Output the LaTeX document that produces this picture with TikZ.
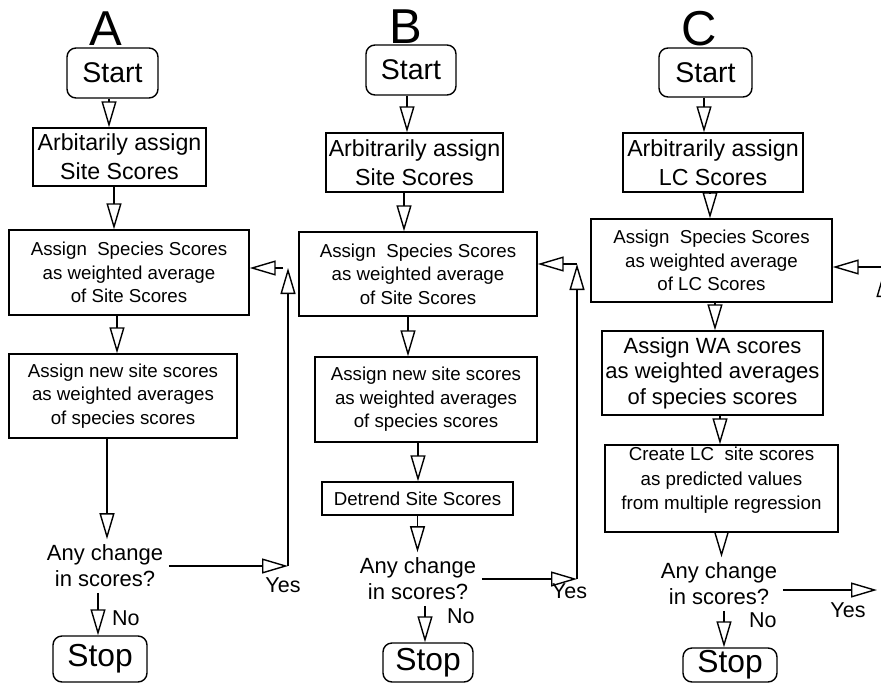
\documentclass[tikz,border=0pt]{standalone}
\usepackage{fontspec}
\setmainfont{Liberation Sans}
\usetikzlibrary{arrows.meta}

\begin{document}
\begin{tikzpicture}[x=1pt,y=-1pt,line width=1.4pt,
  flow/.style={-{Triangle[open,length=26pt,width=15pt]}},
  startbox/.style={draw,rounded corners=9pt,inner sep=0pt,font=\fontsize{28.5}{34}\selectfont},
  stopbox/.style={draw,rounded corners=9pt,inner sep=0pt,font=\fontsize{31.8}{38}\selectfont},
  procbox/.style={draw,inner sep=0pt,align=center},
  bigtext/.style={font=\fontsize{23.2}{29}\selectfont},
  smalltext/.style={font=\fontsize{18.7}{23.5}\selectfont},
  question/.style={align=center,inner sep=5pt,font=\fontsize{22}{26}\selectfont},
  answer/.style={font=\fontsize{21.5}{26}\selectfont},
  panel/.style={font=\fontsize{49}{56}\selectfont}]
\useasboundingbox (0,0) rectangle (881,683);
\clip (0,0) rectangle (881,683);

% Panel A
\node[panel,anchor=base] (labA) at (106,45) {A};
\node[startbox,minimum width=91pt,minimum height=50pt] (startA) at (112.5,73) {Start};
\node[procbox,bigtext,minimum width=173pt,minimum height=58pt] (arbA) at (119.5,157) {Arbitarily assign\\Site Scores};
\node[procbox,smalltext,minimum width=240pt,minimum height=85pt] (specA) at (129,272.5) {Assign~ Species Scores\\as weighted average\\of Site Scores};
\node[procbox,smalltext,minimum width=228pt,minimum height=84pt] (newA) at (123,396) {Assign new site scores\\as weighted averages\\of species scores};
\node[question] (qA) at (105,566) {Any change\\in scores?};
\node[stopbox,minimum width=94pt,minimum height=46pt] (stopA) at (100,659) {Stop};
\node[answer,anchor=base] (yesA) at (283,592) {Yes};
\node[answer,anchor=base west] (noA) at (108,625) {No};
\coordinate (cornA) at (288,564);
\coordinate (topA) at (288,268);

\draw[flow] ([xshift=-3.5pt]startA.south) -- ([xshift=-3.5pt]startA.south |- arbA.north);
\draw[flow] ([xshift=-5.5pt]arbA.south) -- ([xshift=-5.5pt]arbA.south |- specA.north);
\draw[flow] ([xshift=-12pt]specA.south) -- ([xshift=-12pt]specA.south |- newA.north);
\draw[flow] ([xshift=-16pt]newA.south) -- ([xshift=-16pt]newA.south |- qA.north);
\draw[flow] ([xshift=-2pt]stopA.north |- qA.south) -- ([xshift=-2pt]stopA.north);
\draw[flow] (qA.east) -- (qA.east -| cornA);
\draw[flow] (qA.east -| cornA) -- (topA);
\draw[flow] ([xshift=-5pt]topA) -- (topA -| specA.east);

% Panel B
\node[panel,anchor=base] (labB) at (406,43) {B};
\node[startbox,minimum width=90pt,minimum height=50pt] (startB) at (411,70) {Start};
\node[procbox,bigtext,minimum width=177pt,minimum height=59pt] (arbB) at (414.5,162.5) {Arbitrarily assign\\Site Scores};
\node[procbox,smalltext,minimum width=238pt,minimum height=84pt] (specB) at (418,274) {Assign~ Species Scores\\as weighted average\\of Site Scores};
\node[procbox,smalltext,minimum width=222pt,minimum height=85pt] (newB) at (426,399.5) {Assign new site scores\\as weighted averages\\of species scores};
\node[procbox,smalltext,minimum width=191pt,minimum height=33pt] (detB) at (417.5,498.5) {Detrend Site Scores};
\node[question] (qB) at (418,579) {Any change\\in scores?};
\node[stopbox,minimum width=90pt,minimum height=39pt] (stopB) at (428,662.5) {Stop};
\node[answer,anchor=base] (yesB) at (569.5,598) {Yes};
\node[answer,anchor=base west] (noB) at (443,623) {No};
\coordinate (cornB) at (577,580);
\coordinate (topB) at (577,264);

\draw[flow] ([xshift=-4pt]startB.south) -- ([xshift=-4pt]startB.south |- arbB.north);
\draw[flow] ([xshift=-10.5pt]arbB.south) -- ([xshift=-10.5pt]arbB.south |- specB.north);
\draw[flow] ([xshift=-10pt]specB.south) -- ([xshift=-10pt]specB.south |- newB.north);
\draw[flow] ([xshift=-8pt]newB.south) -- ([xshift=-8pt]newB.south |- detB.north);
\draw[flow] (detB.south) -- (detB.south |- qB.north);
\draw[flow] ([xshift=-3pt]stopB.north |- qB.south) -- ([xshift=-3pt]stopB.north);
\draw[flow] (qB.east) -- (qB.east -| cornB);
\draw[flow] (qB.east -| cornB) -- (topB);
\draw[flow] (topB) -- (topB -| specB.east);

% Panel C
\node[panel,anchor=base] (labC) at (699,45) {C};
\node[startbox,minimum width=93pt,minimum height=49pt] (startC) at (705.5,72.5) {Start};
\node[procbox,bigtext,minimum width=180pt,minimum height=59pt] (arbC) at (713,162.5) {Arbitrarily assign\\LC Scores};
\node[procbox,smalltext,minimum width=241pt,minimum height=83pt] (specC) at (711.5,260.5) {Assign~ Species Scores\\as weighted average\\of LC Scores};
\node[procbox,font=\fontsize{22}{25.5}\selectfont,minimum width=221pt,minimum height=84pt] (waC) at (712.5,373) {Assign WA scores\\as weighted averages\\of species scores};
\node[procbox,font=\fontsize{18.75}{24.5}\selectfont] (lcC) at (721.5,488.5) {\parbox[c][87pt][t]{233pt}{\vspace*{2pt}\centering Create LC~ site scores\\as predicted values\\from multiple regression}};
\node[question] (qC) at (719,584) {Any change\\in scores?};
\node[stopbox,minimum width=94pt,minimum height=34pt] (stopC) at (730,665) {Stop};
\node[answer,anchor=base] (yesC) at (848,617) {Yes};
\node[answer,anchor=base west] (noC) at (745,627) {No};
\coordinate (cornC) at (884,590);
\coordinate (topC) at (884,271);

\draw[flow] ([xshift=-1.5pt]startC.south) -- ([xshift=-1.5pt]startC.south |- arbC.north);
\draw[flow] ([xshift=-3pt]arbC.south) -- ([xshift=-3pt]arbC.south |- specC.north);
\draw[flow] ([xshift=3.5pt]specC.south) -- ([xshift=3.5pt]specC.south |- waC.north);
\draw[flow] ([xshift=7.5pt]waC.south) -- ([xshift=7.5pt]waC.south |- lcC.north);
\draw[flow] (lcC.south) -- (lcC.south |- qC.north);
\draw[flow] ([xshift=-6pt]stopC.north |- qC.south) -- ([xshift=-6pt]stopC.north);
\draw[flow] ([yshift=-6pt]qC.east) -- ([xshift=-7pt]cornC);
\draw[flow] (cornC) -- (topC);
\draw[flow] ([yshift=4pt]topC) -- ([yshift=4pt]topC -| specC.east);

\end{tikzpicture}
\end{document}
